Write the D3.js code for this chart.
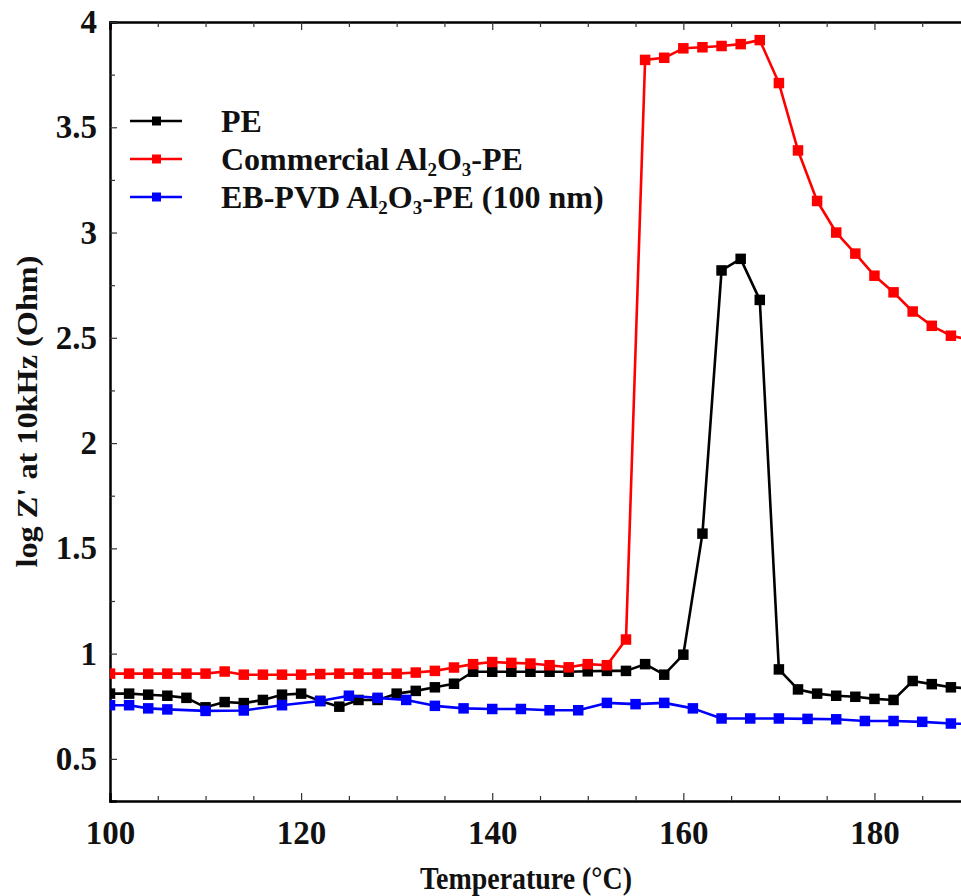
<!DOCTYPE html>
<html><head><meta charset="utf-8">
<script src="https://cdn.jsdelivr.net/npm/d3@7"></script>
<style>body{margin:0;background:#fff;overflow:hidden;} svg{display:block;}</style>
</head><body><svg id="c" width="961" height="896"></svg>
<script>
// ---- data ----
const peTemps = [100,102,104,106,108,110,112,114,116,118,120,122,124,126,128,130,132,134,136,138,140,142,144,146,148,150,152,154,156,158,160,162,164,166,168,170,172,174,176,178,180,182,184,186,188,190];
const peValues = [0.81,0.81,0.805,0.80,0.79,0.745,0.77,0.765,0.78,0.805,0.81,0.775,0.748,0.78,0.78,0.81,0.823,0.84,0.857,0.914,0.914,0.914,0.914,0.914,0.914,0.916,0.918,0.918,0.95,0.90,0.995,1.57,2.82,2.875,2.68,0.925,0.83,0.81,0.80,0.795,0.785,0.78,0.87,0.855,0.84,0.835];
const comTemps = [100,102,104,106,108,110,112,114,116,118,120,122,124,126,128,130,132,134,136,138,140,142,144,146,148,150,152,154,156,158,160,162,164,166,168,170,172,174,176,178,180,182,184,186,188,190];
const comValues = [0.905,0.905,0.905,0.905,0.905,0.905,0.915,0.9,0.9,0.9,0.9,0.903,0.905,0.905,0.905,0.905,0.91,0.918,0.934,0.95,0.96,0.956,0.953,0.945,0.935,0.95,0.945,1.067,3.82,3.83,3.875,3.88,3.886,3.895,3.914,3.71,3.39,3.15,3.0,2.90,2.795,2.716,2.625,2.557,2.51,2.49];
const ebTemps = [100,102,104,106,110,114,118,122,125,128,131,134,137,140,143,146,149,152,155,158,161,164,167,170,173,176,179,182,185,188,191];
const ebValues = [0.755,0.755,0.74,0.735,0.728,0.73,0.755,0.775,0.80,0.79,0.78,0.752,0.74,0.737,0.737,0.731,0.731,0.766,0.76,0.766,0.74,0.692,0.692,0.692,0.69,0.688,0.68,0.68,0.676,0.668,0.665];
const seriesNames = ["PE", "Commercial Al2O3-PE", "EB-PVD Al2O3-PE (100 nm)"];
const seriesColors = ["#000000", "#ff0000", "#0000ff"];
const xTickLabels = [100,120,140,160,180];
const yTickLabels = [0.5,1,1.5,2,2.5,3,3.5,4];
const xTitle = "Temperature (°C)";
const yTitle = "log Z' at 10kHz (Ohm)";

// ---- layout ----
const svg = d3.select("#c");
const L = 110, R = 970, T = 22, B = 801;
const x = d3.scaleLinear().domain([100,190]).range([L,R]);
const y = d3.scaleLinear().domain([0.3,4]).range([B,T]);
const FONT = "'Liberation Serif','Times New Roman',serif";

svg.append("defs").append("clipPath").attr("id","pc")
  .append("rect").attr("x",L).attr("y",T).attr("width",R-L).attr("height",B-T);

const minorX = d3.range(100,191,5), minorY = d3.range(0.5,4.01,0.25);
function tickFmt(d){ return d3.format("~g")(d); }
const isYMajor = d => yTickLabels.some(v=>Math.abs(v-d)<1e-6);

const gx = svg.append("g").attr("transform",`translate(0,${B})`)
  .call(d3.axisBottom(x).tickValues(minorX).tickSize(-8).tickPadding(20)
    .tickFormat(d => xTickLabels.includes(d) ? tickFmt(d) : ""));
const gxt = svg.append("g").attr("transform",`translate(0,${T})`)
  .call(d3.axisTop(x).tickValues(minorX).tickSize(-8).tickFormat(""));
const gy = svg.append("g").attr("transform",`translate(${L},0)`)
  .call(d3.axisLeft(y).tickValues(minorY).tickSize(-7).tickPadding(13)
    .tickFormat(d => isYMajor(d) ? tickFmt(d) : ""));
const gyr = svg.append("g").attr("transform",`translate(${R},0)`)
  .call(d3.axisRight(y).tickValues(minorY).tickSize(-7).tickFormat(""));

[gx,gxt,gy,gyr].forEach(g=>{
  g.select(".domain").attr("stroke","#000").attr("stroke-width",2.5);
  g.selectAll(".tick line").attr("stroke","#333").attr("stroke-width",1.2);
  g.selectAll(".tick text").attr("font-family",FONT).attr("font-weight","bold")
    .attr("font-size",33).attr("fill","#111");
});
[gx,gxt].forEach(g=>g.selectAll(".tick").filter(d=>!xTickLabels.includes(d))
  .select("line").attr("y2", g===gx ? -5 : 5));
[gy,gyr].forEach(g=>g.selectAll(".tick").filter(d=>!isYMajor(d))
  .select("line").attr("x2", g===gy ? 5 : -5));

// series
const series = [
  {t:peTemps, v:peValues, c:seriesColors[0]},
  {t:comTemps, v:comValues, c:seriesColors[1]},
  {t:ebTemps, v:ebValues, c:seriesColors[2]}
];
const line = d3.line().x(d=>x(d[0])).y(d=>y(d[1]));
const plot = svg.append("g").attr("clip-path","url(#pc)");
series.forEach(s=>{
  const pts = s.t.map((t,i)=>[t,s.v[i]]);
  const g = plot.append("g");
  g.append("path").datum(pts).attr("d",line).attr("fill","none")
    .attr("stroke",s.c).attr("stroke-width",2.6).attr("stroke-linejoin","round");
  const m = 10.5;
  g.selectAll("rect").data(pts).join("rect")
    .attr("x",d=>x(d[0])-m/2).attr("y",d=>y(d[1])-m/2)
    .attr("width",m).attr("height",m).attr("fill",s.c);
});

// legend
const legRows = [121,159,197];
const lg = svg.append("g");
seriesNames.forEach((name,i)=>{
  const yy = legRows[i];
  lg.append("line").attr("x1",130).attr("x2",182).attr("y1",yy).attr("y2",yy)
    .attr("stroke",seriesColors[i]).attr("stroke-width",2.6);
  lg.append("rect").attr("x",152).attr("y",yy-4.5).attr("width",9).attr("height",9).attr("fill",seriesColors[i]);
  const txt = lg.append("text").attr("x",221).attr("y",yy+11)
    .attr("font-family",FONT).attr("font-weight","bold").attr("font-size",32).attr("fill","#111");
  const parts = name.split(/(Al2O3)/);
  let pendingDy = 0;
  parts.forEach(p=>{
    if(p==="Al2O3"){
      txt.append("tspan").text("Al").attr("dy",pendingDy);
      txt.append("tspan").text("2").attr("font-size",19).attr("dy",6);
      txt.append("tspan").text("O").attr("dy",-6);
      txt.append("tspan").text("3").attr("font-size",19).attr("dy",6);
      pendingDy = -6;
    } else if(p.length){
      txt.append("tspan").text(p).attr("dy",pendingDy);
      pendingDy = 0;
    }
  });
});

// titles
svg.append("text").attr("x",526).attr("y",889).attr("text-anchor","middle")
  .attr("font-family",FONT).attr("font-weight","bold").attr("font-size",31).attr("fill","#111")
  .attr("textLength",212).attr("lengthAdjust","spacingAndGlyphs")
  .text(xTitle);
svg.append("text").attr("transform",`translate(37,${(T+B)/2}) rotate(-90)`).attr("text-anchor","middle")
  .attr("font-family",FONT).attr("font-weight","bold").attr("font-size",30).attr("fill","#111")
  .attr("textLength",312).attr("lengthAdjust","spacingAndGlyphs")
  .text(yTitle);
</script></body></html>
